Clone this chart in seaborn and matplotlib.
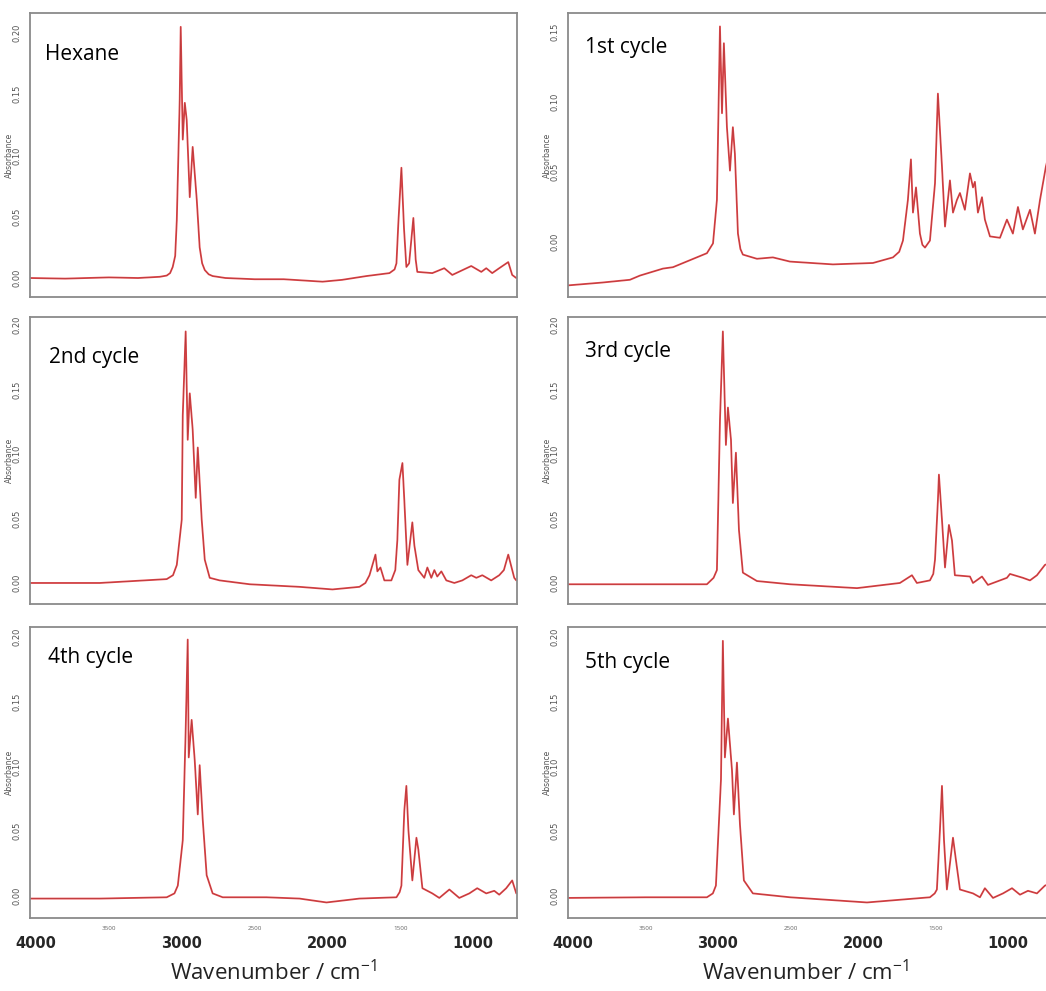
import matplotlib
matplotlib.use("Agg")
import matplotlib.pyplot as plt
import seaborn as sns
import numpy as np

# spectra: wavenumber (cm-1) and absorbance
hexane_wn = [4040, 3800, 3500, 3300, 3150, 3103, 3080, 3062, 3045, 3034, 3014, 3007, 2993, 2979,
             2966, 2945, 2925, 2897, 2877, 2860, 2842, 2815, 2788, 2700, 2500, 2300, 2034, 1900,
             1733, 1575, 1540, 1527, 1514, 1493, 1475, 1459, 1440, 1411, 1395, 1384, 1281, 1199,
             1144, 1014, 945, 911, 870, 822, 760, 733, 705]
hexane_abs = [0.0, -0.0005, 0.0005, 0.0, 0.001, 0.002, 0.004, 0.009, 0.018, 0.047, 0.145, 0.205,
              0.113, 0.143, 0.129, 0.066, 0.107, 0.064, 0.025, 0.012, 0.0065, 0.003, 0.0016, 0.0,
              -0.001, -0.001, -0.003, -0.0015, 0.0016, 0.004, 0.007, 0.012, 0.045, 0.090, 0.040,
              0.009, 0.012, 0.049, 0.015, 0.005, 0.004, 0.008, 0.0025, 0.0098, 0.005, 0.008, 0.004,
              0.008, 0.013, 0.0025, 0.0]

cycle1_wn = [4034, 3800, 3607, 3538, 3379, 3310, 3193, 3076, 3034, 3007, 2986, 2972, 2959, 2938,
             2917, 2897, 2883, 2862, 2845, 2828, 2731, 2621, 2503, 2207, 1931, 1793, 1750, 1724,
             1690, 1669, 1655, 1634, 1607, 1590, 1572, 1538, 1503, 1483, 1455, 1434, 1400, 1379,
             1352, 1331, 1297, 1262, 1241, 1228, 1207, 1179, 1159, 1124, 1055, 1007, 966, 931, 897,
             848, 814, 779, 738, 700]
cycle1_abs = [-0.031, -0.029, -0.027, -0.024, -0.019, -0.018, -0.013, -0.008, -0.001, 0.030, 0.154,
              0.092, 0.142, 0.082, 0.051, 0.082, 0.063, 0.006, -0.005, -0.009, -0.012, -0.011,
              -0.014, -0.016, -0.015, -0.011, -0.007, 0.001, 0.030, 0.059, 0.021, 0.039, 0.006,
              -0.002, -0.004, 0.001, 0.042, 0.106, 0.054, 0.011, 0.044, 0.021, 0.030, 0.035, 0.023,
              0.049, 0.039, 0.043, 0.021, 0.032, 0.016, 0.004, 0.003, 0.016, 0.006, 0.025, 0.009,
              0.023, 0.006, 0.030, 0.054, 0.070]

cycle2_wn = [4040, 3562, 3103, 3060, 3034, 3000, 2993, 2973, 2959, 2945, 2925, 2904, 2890, 2863,
             2842, 2808, 2740, 2534, 2192, 1966, 1781, 1740, 1712, 1671, 1658, 1637, 1610, 1562,
             1535, 1521, 1507, 1486, 1473, 1452, 1418, 1404, 1377, 1336, 1315, 1288, 1267, 1247,
             1219, 1185, 1130, 1075, 1014, 979, 938, 877, 822, 790, 760, 719, 705]
cycle2_abs = [0.0, 0.0, 0.003, 0.006, 0.014, 0.049, 0.130, 0.195, 0.111, 0.147, 0.119, 0.066,
              0.105, 0.049, 0.018, 0.004, 0.002, -0.001, -0.003, -0.005, -0.003, 0.0, 0.006,
              0.022, 0.009, 0.012, 0.002, 0.002, 0.010, 0.033, 0.080, 0.093, 0.064, 0.014, 0.047,
              0.029, 0.010, 0.004, 0.012, 0.004, 0.010, 0.005, 0.009, 0.002, 0.0, 0.002, 0.006,
              0.004, 0.006, 0.002, 0.006, 0.010, 0.022, 0.004, 0.002]

cycle3_wn = [4034, 3500, 3076, 3030, 3007, 2986, 2966, 2945, 2931, 2910, 2897, 2876, 2855, 2828,
             2731, 2503, 2041, 1745, 1662, 1628, 1538, 1515, 1503, 1483, 1476, 1455, 1434, 1407,
             1386, 1366, 1262, 1241, 1179, 1138, 1007, 986, 897, 848, 800, 745, 700]
cycle3_abs = [-0.001, -0.001, -0.001, 0.004, 0.010, 0.126, 0.195, 0.107, 0.136, 0.111, 0.062,
              0.101, 0.041, 0.008, 0.0015, -0.001, -0.004, 0.0, 0.006, 0.0, 0.002, 0.007, 0.018,
              0.064, 0.084, 0.049, 0.012, 0.045, 0.033, 0.006, 0.005, 0.0, 0.005, -0.0015, 0.004,
              0.007, 0.004, 0.002, 0.006, 0.014, 0.016]

cycle4_wn = [4040, 3562, 3103, 3050, 3027, 2993, 2973, 2959, 2952, 2932, 2911, 2890, 2877, 2856,
             2829, 2788, 2719, 2418, 2192, 2007, 1781, 1527, 1505, 1493, 1473, 1459, 1445, 1418,
             1390, 1377, 1349, 1281, 1233, 1164, 1096, 1027, 973, 911, 856, 822, 774, 733, 705]
cycle4_abs = [-0.002, -0.002, -0.001, 0.002, 0.008, 0.043, 0.128, 0.198, 0.107, 0.136, 0.105,
              0.063, 0.101, 0.059, 0.016, 0.002, -0.001, -0.001, -0.002, -0.005, -0.002, -0.001,
              0.003, 0.008, 0.066, 0.085, 0.051, 0.012, 0.045, 0.036, 0.006, 0.002, -0.0015,
              0.005, -0.0015, 0.002, 0.006, 0.002, 0.004, 0.001, 0.006, 0.012, 0.002]

cycle5_wn = [4034, 3500, 3076, 3035, 3014, 2979, 2966, 2952, 2931, 2903, 2890, 2869, 2848, 2821,
             2759, 2503, 1972, 1538, 1505, 1490, 1469, 1455, 1441, 1421, 1379, 1359, 1331, 1241,
             1193, 1159, 1103, 1034, 972, 917, 862, 800, 745, 700]
cycle5_abs = [-0.0015, -0.001, -0.001, 0.002, 0.008, 0.090, 0.197, 0.107, 0.137, 0.097, 0.063,
              0.103, 0.055, 0.012, 0.002, -0.001, -0.005, -0.001, 0.002, 0.005, 0.051, 0.085,
              0.043, 0.005, 0.045, 0.028, 0.005, 0.002, -0.001, 0.006, -0.0015, 0.002, 0.006,
              0.001, 0.004, 0.002, 0.008, 0.010]

titles = ["Hexane", "1st cycle", "2nd cycle", "3rd cycle", "4th cycle", "5th cycle"]
spectra = [(hexane_wn, hexane_abs), (cycle1_wn, cycle1_abs), (cycle2_wn, cycle2_abs),
           (cycle3_wn, cycle3_abs), (cycle4_wn, cycle4_abs), (cycle5_wn, cycle5_abs)]
ylims = [(-0.0155, 0.2163), (-0.0393, 0.1636), (-0.0163, 0.2062),
         (-0.0163, 0.2062), (-0.017, 0.2077), (-0.017, 0.2077)]
ymajor = [[0, 0.05, 0.10, 0.15, 0.20], [0, 0.05, 0.10, 0.15], [0, 0.05, 0.10, 0.15, 0.20],
          [0, 0.05, 0.10, 0.15, 0.20], [0, 0.05, 0.10, 0.15, 0.20], [0, 0.05, 0.10, 0.15, 0.20]]
xlabel = "Wavenumber / cm$^{-1}$"

sns.set_style("white")
plt.rcParams["font.family"] = ["Open Sans", "DejaVu Sans"]
plt.rcParams["mathtext.fontset"] = "custom"
plt.rcParams["mathtext.rm"] = "Open Sans"
plt.rcParams["mathtext.it"] = "Open Sans"

W, H = 1046, 991
fig = plt.figure(figsize=(W / 100, H / 100), dpi=100)

# pixel boxes of the panels (left, right, wn at left, wn at right) and rows (top, bottom)
cols = [(30, 517, 4041, 705.5), (568, 1060, 4034, 641)]
rows = [(13, 297), (317, 604), (627, 918)]
title_pos = [(45, 60), (585, 53), (49, 363), (585, 357), (48, 663), (585, 668)]
xlabel_pos = [(274, 980), (806, 980)]

for i, (title, (wn, ab)) in enumerate(zip(titles, spectra)):
    r, c = divmod(i, 2)
    x0, x1, xl, xr = cols[c]
    y0, y1 = rows[r]
    ax = fig.add_axes([x0 / W, 1 - y1 / H, (x1 - x0) / W, (y1 - y0) / H])

    sns.lineplot(x=wn, y=ab, ax=ax, color="#e4484b", lw=1.3, sort=False, estimator=None)
    sns.lineplot(x=wn, y=ab, ax=ax, color="#4a1a1a", lw=0.5, alpha=0.3, sort=False,
                 estimator=None)

    ax.set_xlim(xl, xr)
    ax.set_ylim(*ylims[i])

    for s in ax.spines.values():
        s.set_color("#8a8a8a")
        s.set_linewidth(1.3)

    # x ticks: big labels every 1000, tiny ones at the 500s
    ax.set_xticks([4000, 3000, 2000, 1000])
    mins = [v for v in range(3900, 600, -100) if v % 1000 != 0]
    mlab = [str(v) if v % 500 == 0 else "" for v in mins]
    ax.set_xticks(mins, labels=mlab, minor=True)
    ax.tick_params(axis="x", which="major", direction="out", length=6, width=1.4,
                   color="#333333", pad=7, labelsize=10.5)
    ax.tick_params(axis="x", which="minor", direction="out", length=3, width=0.9,
                   color="#444444", pad=3, labelsize=4.5, labelcolor="#666666")
    if r < 2:
        ax.tick_params(axis="x", which="both", labelbottom=False)
    else:
        for t in ax.get_xticklabels():
            t.set_fontfamily("DejaVu Sans")
            t.set_fontweight("bold")
        lx, ly = xlabel_pos[c]
        fig.text(lx / W, 1 - ly / H, xlabel, fontsize=16, ha="center", va="baseline",
                 color="#222222")

    # y ticks
    ax.set_yticks(ymajor[i], labels=[f"{v:.2f}" for v in ymajor[i]])
    lo, hi = ylims[i]
    ax.set_yticks(np.arange(np.ceil(lo * 100), np.floor(hi * 100) + 1) / 100, minor=True)
    ax.tick_params(axis="y", which="major", direction="out", length=4, width=1.0,
                   color="#444444", pad=2, labelsize=6, labelcolor="#555555")
    ax.tick_params(axis="y", which="minor", direction="out", length=2.5, width=0.9,
                   color="#555555")
    for t in ax.get_yticklabels():
        t.set_rotation(90)
        t.set_va("center")
        t.set_fontfamily("DejaVu Sans")
    ax.set_ylabel("Absorbance", fontsize=5.5, color="#555555", family="DejaVu Sans")
    ax.yaxis.set_label_coords(-16 / (x1 - x0), 0.5)

    tx, ty = title_pos[i]
    fig.text(tx / W, 1 - ty / H, title, fontsize=15, va="baseline", ha="left", color="black")

fig.savefig("out.png", dpi=100)
